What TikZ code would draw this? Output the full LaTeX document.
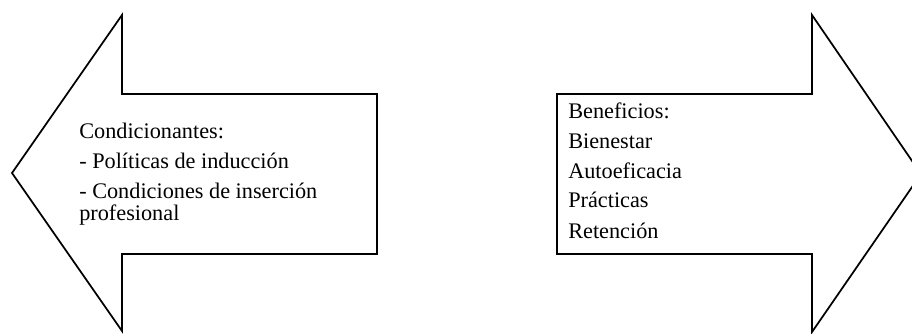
\documentclass[tikz,border=0pt]{standalone}
\usepackage{fontspec}
\setmainfont{Liberation Serif}
\begin{document}
\begin{tikzpicture}[x=0.75pt,y=-0.75pt,
  bigarrow/.style={draw=black,line width=1.3pt,line join=miter,fill=white},
  txt/.style={anchor=base west,inner sep=0pt,font=\fontsize{16.7}{20}\selectfont}]
\useasboundingbox (0,0) rectangle (912,333);
\begin{scope}
\clip (0,0) rectangle (912,333);
% left block arrow
\draw[bigarrow] (377,94) -- (122,94) -- (122,15) -- (12,173) -- (122,331) -- (122,254) -- (377,254) -- cycle;
% right block arrow
\draw[bigarrow] (557,94) -- (812,94) -- (812,15) -- (921,174) -- (812,332) -- (812,254) -- (557,254) -- cycle;
\end{scope}
% left text
\node[txt] (c0) at (79,138) {Condicionantes:};
\node[txt] (c1) at (79,168) {- Políticas de inducción};
\node[txt] (c2) at (79,198) {- Condiciones de inserción};
\node[txt] (c3) at (79,220) {profesional};
% right text
\node[txt] (b0) at (568,118) {Beneficios:};
\node[txt] (b1) at (568,148) {Bienestar};
\node[txt] (b2) at (568,178) {Autoeficacia};
\node[txt] (b3) at (568,207) {Prácticas};
\node[txt] (b4) at (568,238) {Retención};
\end{tikzpicture}
\end{document}
